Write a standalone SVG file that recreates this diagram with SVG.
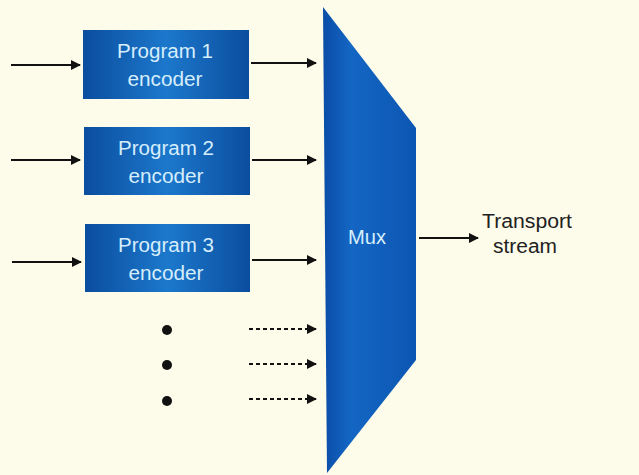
<svg xmlns="http://www.w3.org/2000/svg" width="639" height="475" viewBox="0 0 639 475">
  <defs>
    <linearGradient id="boxFill" x1="0" y1="0" x2="1" y2="0">
      <stop offset="0" stop-color="#0b4d9e"/>
      <stop offset="0.5" stop-color="#1c78cc"/>
      <stop offset="1" stop-color="#0b4d9e"/>
    </linearGradient>
    <linearGradient id="muxFill" x1="0" y1="0" x2="1" y2="0">
      <stop offset="0" stop-color="#0a4da6"/>
      <stop offset="0.3" stop-color="#1466c4"/>
      <stop offset="1" stop-color="#0c56b2"/>
    </linearGradient>
    <marker id="head" viewBox="0 0 10 10" refX="9" refY="5" markerWidth="10" markerHeight="10" markerUnits="userSpaceOnUse" orient="auto">
      <path d="M0,0 L10,5 L0,10 Z" fill="#111"/>
    </marker>
  </defs>
  <style>
    .box { fill: url(#boxFill); }
    .label { font-family: "Liberation Sans", Arial, sans-serif; font-size: 20px; fill: #d6eefc; text-anchor: middle; }
    .dark { font-family: "Liberation Sans", Arial, sans-serif; font-size: 20px; fill: #222; text-anchor: middle; }
    .wire { stroke: #111; stroke-width: 1.8; fill: none; marker-end: url(#head); }
    .dash { stroke-dasharray: 4 3; }
  </style>
  <rect width="639" height="475" fill="#fdfbe9"/>

  <g id="enc1">
    <rect class="box" x="83" y="30" width="166" height="69"/>
    <text class="label" x="165" y="58" textLength="96" lengthAdjust="spacingAndGlyphs">Program 1</text>
    <text class="label" x="165" y="86" textLength="75" lengthAdjust="spacingAndGlyphs">encoder</text>
  </g>
  <g id="enc2">
    <rect class="box" x="84" y="127" width="166" height="68"/>
    <text class="label" x="166" y="155" textLength="96" lengthAdjust="spacingAndGlyphs">Program 2</text>
    <text class="label" x="166" y="183" textLength="75" lengthAdjust="spacingAndGlyphs">encoder</text>
  </g>
  <g id="enc3">
    <rect class="box" x="85" y="224" width="165" height="68"/>
    <text class="label" x="166" y="252" textLength="96" lengthAdjust="spacingAndGlyphs">Program 3</text>
    <text class="label" x="166" y="280" textLength="75" lengthAdjust="spacingAndGlyphs">encoder</text>
  </g>
  <g id="mux">
    <polygon points="323,7 416,128 416,360 327,473" fill="url(#muxFill)"/>
    <text class="label" x="367" y="244" textLength="38" lengthAdjust="spacingAndGlyphs">Mux</text>
  </g>
  <g id="output">
    <text class="dark" x="527" y="228" textLength="90" lengthAdjust="spacingAndGlyphs">Transport</text>
    <text class="dark" x="525" y="253" textLength="64" lengthAdjust="spacingAndGlyphs">stream</text>
  </g>
  <g id="ellipsis" fill="#111">
    <circle cx="167" cy="330" r="5"/>
    <circle cx="167" cy="365" r="5"/>
    <circle cx="167" cy="401" r="5"/>
  </g>

  <g id="connectors">
    <line class="wire" x1="11" y1="65" x2="80" y2="65"/>
    <line class="wire" x1="251" y1="63" x2="316" y2="63"/>
    <line class="wire" x1="11" y1="160" x2="80" y2="160"/>
    <line class="wire" x1="252" y1="160" x2="316" y2="160"/>
    <line class="wire" x1="12" y1="262" x2="81" y2="262"/>
    <line class="wire" x1="252" y1="260" x2="316" y2="260"/>
    <line class="wire dash" x1="249" y1="329" x2="316" y2="329"/>
    <line class="wire dash" x1="249" y1="364" x2="316" y2="364"/>
    <line class="wire dash" x1="249" y1="399" x2="316" y2="399"/>
    <line class="wire" x1="419" y1="238" x2="478" y2="238"/>
  </g>
</svg>
